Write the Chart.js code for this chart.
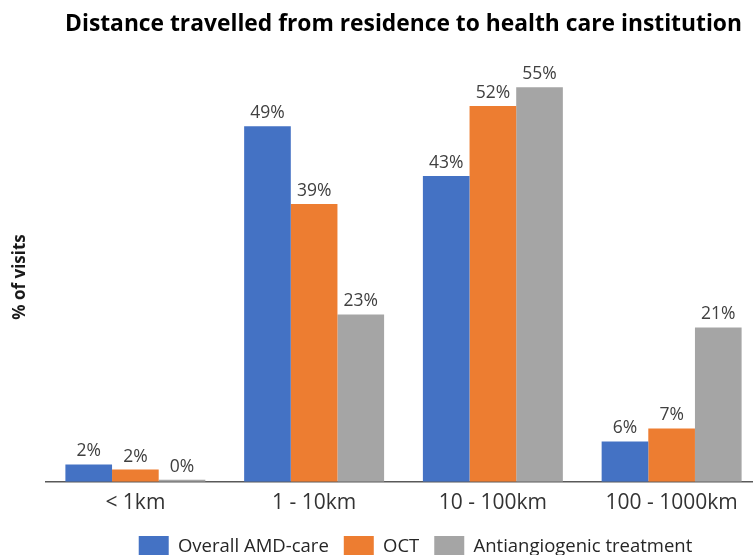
<!DOCTYPE html>
<html>
<head>
<meta charset="utf-8">
<script src="https://cdn.jsdelivr.net/npm/chart.js@4"></script>
<style>
  html, body { margin: 0; padding: 0; background: #fff; overflow: hidden; }
  #wrap { width: 762px; height: 567px; }
</style>
</head>
<body>
<div id="wrap"><canvas id="c" width="762" height="567"></canvas></div>
<script>
const categories = ['< 1km', '1 - 10km', '10 - 100km', '100 - 1000km'];
const overallAMD = [2.4, 49.3, 42.4, 5.6];
const oct = [1.7, 38.5, 52.1, 7.4];
const antiangiogenic = [0.3, 23.2, 54.7, 21.4];
const labelOverall = ['2%', '49%', '43%', '6%'];
const labelOct = ['2%', '39%', '52%', '7%'];
const labelAnti = ['0%', '23%', '55%', '21%'];
const seriesNames = ['Overall AMD-care', 'OCT', 'Antiangiogenic treatment'];
const titleText = 'Distance travelled from residence to health care institution';
const yTitle = '% of visits';

const FONT = "'Open Sans', 'DejaVu Sans', sans-serif";

const valueLabels = {
  id: 'valueLabels',
  afterDatasetsDraw(chart) {
    const ctx = chart.ctx;
    ctx.save();
    ctx.font = "17.5px " + FONT;
    ctx.fillStyle = '#404040';
    ctx.textAlign = 'center';
    ctx.textBaseline = 'alphabetic';
    chart.data.datasets.forEach((ds, i) => {
      const meta = chart.getDatasetMeta(i);
      meta.data.forEach((bar, j) => {
        ctx.fillText(ds.valueText[j], bar.x, bar.y - 8);
      });
    });
    ctx.restore();
  }
};

const yTitlePlugin = {
  id: 'yTitlePlugin',
  afterDraw(chart) {
    const ctx = chart.ctx;
    ctx.save();
    ctx.translate(20, 277);
    ctx.rotate(-Math.PI / 2);
    ctx.font = "bold 17px " + FONT;
    ctx.fillStyle = '#1a1a1a';
    ctx.textAlign = 'center';
    ctx.textBaseline = 'middle';
    ctx.fillText(yTitle, 0, 0);
    ctx.restore();
  }
};

const legendShift = {
  id: 'legendShift',
  afterLayout(chart) {
    if (chart.legend) {
      chart.legend.left += 12;
      chart.legend.right += 12;
    }
  }
};

new Chart(document.getElementById('c'), {
  type: 'bar',
  data: {
    labels: categories,
    datasets: [
      { label: seriesNames[0], data: overallAMD, valueText: labelOverall, backgroundColor: '#4472C4' },
      { label: seriesNames[1], data: oct, valueText: labelOct, backgroundColor: '#ED7D31' },
      { label: seriesNames[2], data: antiangiogenic, valueText: labelAnti, backgroundColor: '#A5A5A5' }
    ]
  },
  options: {
    responsive: false,
    animation: false,
    devicePixelRatio: 1,
    layout: { padding: { left: 46, right: 1, top: 0, bottom: 0 } },
    datasets: { bar: { barPercentage: 1.0, categoryPercentage: 0.783 } },
    scales: {
      x: {
        grid: { display: false },
        border: { display: true, color: '#595959', width: 1.5 },
        ticks: { color: '#333333', font: { family: FONT, size: 21 }, padding: 1 }
      },
      y: {
        display: false,
        min: 0,
        max: 60
      }
    },
    plugins: {
      title: {
        display: true,
        text: titleText,
        fullSize: false,
        color: '#000',
        font: { family: FONT, size: 22.8, weight: 'bold' },
        padding: { top: 11.3, bottom: 10.3 }
      },
      legend: {
        position: 'bottom',
        fullSize: false,
        title: { display: true, text: ' ', font: { size: 2 }, padding: { top: 1.6, bottom: 0 } },
        labels: {
          boxWidth: 30,
          boxHeight: 21,
          color: '#262626',
          font: { family: FONT, size: 18.5 },
          padding: 15
        }
      },
      tooltip: { enabled: false }
    }
  },
  plugins: [valueLabels, yTitlePlugin, legendShift]
});
</script>
</body>
</html>
